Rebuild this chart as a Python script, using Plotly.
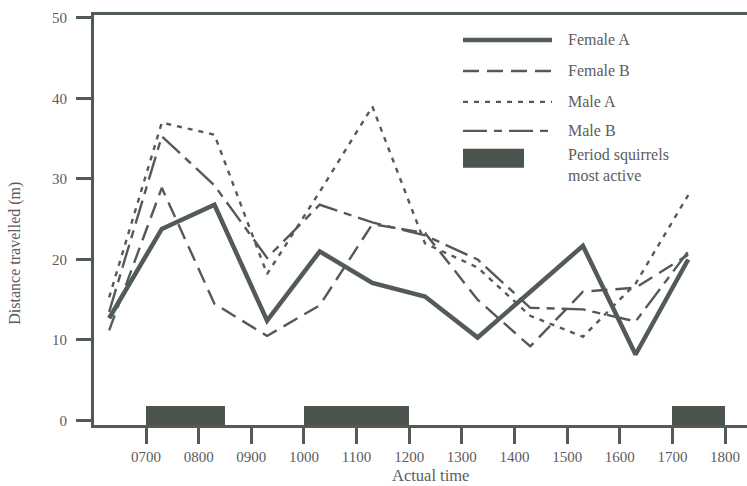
import plotly.graph_objects as go

# ---------------- data ----------------
times = [6.3, 7.3, 8.3, 9.3, 10.3, 11.3, 12.3, 13.3, 14.3, 15.3, 16.3, 17.3]
female_a = [12.7, 23.8, 26.8, 12.4, 21.0, 17.1, 15.4, 10.3, 16.0, 21.7, 8.2, 20.0]
female_b = [11.2, 28.9, 14.5, 10.5, 14.3, 24.4, 23.3, 15.0, 9.2, 16.0, 16.5, 20.6]
male_a = [15.3, 37.0, 35.5, 18.2, 28.4, 39.0, 22.0, 19.0, 13.0, 10.4, 17.0, 28.0]
male_b = [13.5, 35.3, 29.2, 20.2, 26.8, 24.6, 23.0, 20.0, 14.0, 13.8, 12.3, 21.0]

active_start = [7.0, 10.0, 17.0]
active_end = [8.5, 12.0, 18.0]
active_top = 1.8

x_tick_vals = [7, 8, 9, 10, 11, 12, 13, 14, 15, 16, 17, 18]
x_tick_text = ["0700", "0800", "0900", "1000", "1100", "1200",
               "1300", "1400", "1500", "1600", "1700", "1800"]
y_tick_vals = [0, 10, 20, 30, 40, 50]

series_names = ["Female A", "Female B", "Male A", "Male B"]

# ---------------- style ----------------
LC = "#535b55"      # line / axis colour
BC = "#4c544e"      # bar colour
TC = "#5c5c5c"      # text colour
FONT = "Liberation Serif"
Y_MIN, Y_MAX = -0.56, 50.37
X_MIN, X_MAX = 6.012, 18.417

ML, MR, MT, MB = 94, 0, 15, 60.5
W, H = 747, 486
PW = W - ML - MR
PH = H - MT - MB


def px(xp):
    return (xp - ML) / PW


def py(yp):
    return (H - MB - yp) / PH


fig = go.Figure()

# active-period bars
fig.add_trace(go.Bar(
    x=[(s + e) / 2 for s, e in zip(active_start, active_end)],
    y=[active_top - Y_MIN for _ in active_start],
    width=[e - s for s, e in zip(active_start, active_end)],
    base=Y_MIN,
    marker=dict(color=BC, line=dict(width=0)),
    name="Period squirrels most active",
    hoverinfo="skip",
))

styles = [
    dict(width=4.5, dash="solid"),
    dict(width=2.4, dash="16px,8px"),
    dict(width=2.4, dash="5px,6px"),
    dict(width=2.4, dash="24px,7px,8px,7px"),
]
for name, vals, st in zip(series_names, [female_a, female_b, male_a, male_b], styles):
    fig.add_trace(go.Scatter(
        x=times, y=vals, mode="lines", name=name,
        line=dict(color=LC, width=st["width"], dash=st["dash"]),
    ))

# ---------------- manual legend ----------------
legend_rows_y = [40, 71, 102, 131]
shapes = []
annotations = []
for name, st, yy in zip(series_names, styles, legend_rows_y):
    shapes.append(dict(
        type="line", xref="paper", yref="paper",
        x0=px(463), x1=px(552), y0=py(yy), y1=py(yy),
        line=dict(color=LC, width=st["width"], dash=st["dash"]),
    ))
    annotations.append(dict(
        xref="paper", yref="paper", x=px(566), y=py(yy),
        xanchor="left", yanchor="middle", showarrow=False,
        text=name, font=dict(family=FONT, size=16, color=TC),
    ))
shapes.append(dict(
    type="rect", xref="paper", yref="paper",
    x0=px(463), x1=px(524), y0=py(168), y1=py(149),
    fillcolor=BC, line=dict(width=0),
))
annotations.append(dict(
    xref="paper", yref="paper", x=px(566), y=py(144),
    xanchor="left", yanchor="top", showarrow=False, align="left",
    text="Period squirrels<br>most active",
    font=dict(family=FONT, size=16, color=TC),
))

# axis titles
annotations.append(dict(
    xref="paper", yref="paper", x=px(15), y=py(254),
    xanchor="center", yanchor="middle", showarrow=False, textangle=-90,
    text="Distance travelled (m)", font=dict(family=FONT, size=16, color=TC),
))
annotations.append(dict(
    xref="paper", yref="paper", x=px(430), y=py(476),
    xanchor="center", yanchor="middle", showarrow=False,
    text="Actual time", font=dict(family=FONT, size=16.5, color=TC),
))

fig.update_layout(
    width=W, height=H,
    margin=dict(l=ML, r=MR, t=MT, b=MB),
    plot_bgcolor="white", paper_bgcolor="white",
    showlegend=False, bargap=0,
    shapes=shapes, annotations=annotations,
    font=dict(family=FONT, color=TC),
)
fig.update_xaxes(
    range=[X_MIN, X_MAX], tickvals=x_tick_vals, ticktext=x_tick_text,
    ticks="outside", ticklen=16, tickwidth=2.5, tickcolor=LC,
    showline=True, linewidth=3, linecolor=LC, mirror=True,
    showgrid=False, zeroline=False,
    tickfont=dict(family=FONT, size=15, color=TC),
)
fig.update_yaxes(
    range=[Y_MIN, Y_MAX], tickvals=y_tick_vals,
    ticks="outside", ticklen=15, tickwidth=3, tickcolor=LC,
    showline=True, linewidth=3, linecolor=LC, mirror=False,
    showgrid=False, zeroline=False, ticklabelstandoff=6,
    tickfont=dict(family=FONT, size=15, color=TC),
)

fig.write_html(
    "out.html",
    config={"displayModeBar": False},
    post_script="document.body.style.margin='0';document.body.style.overflow='hidden';",
)
